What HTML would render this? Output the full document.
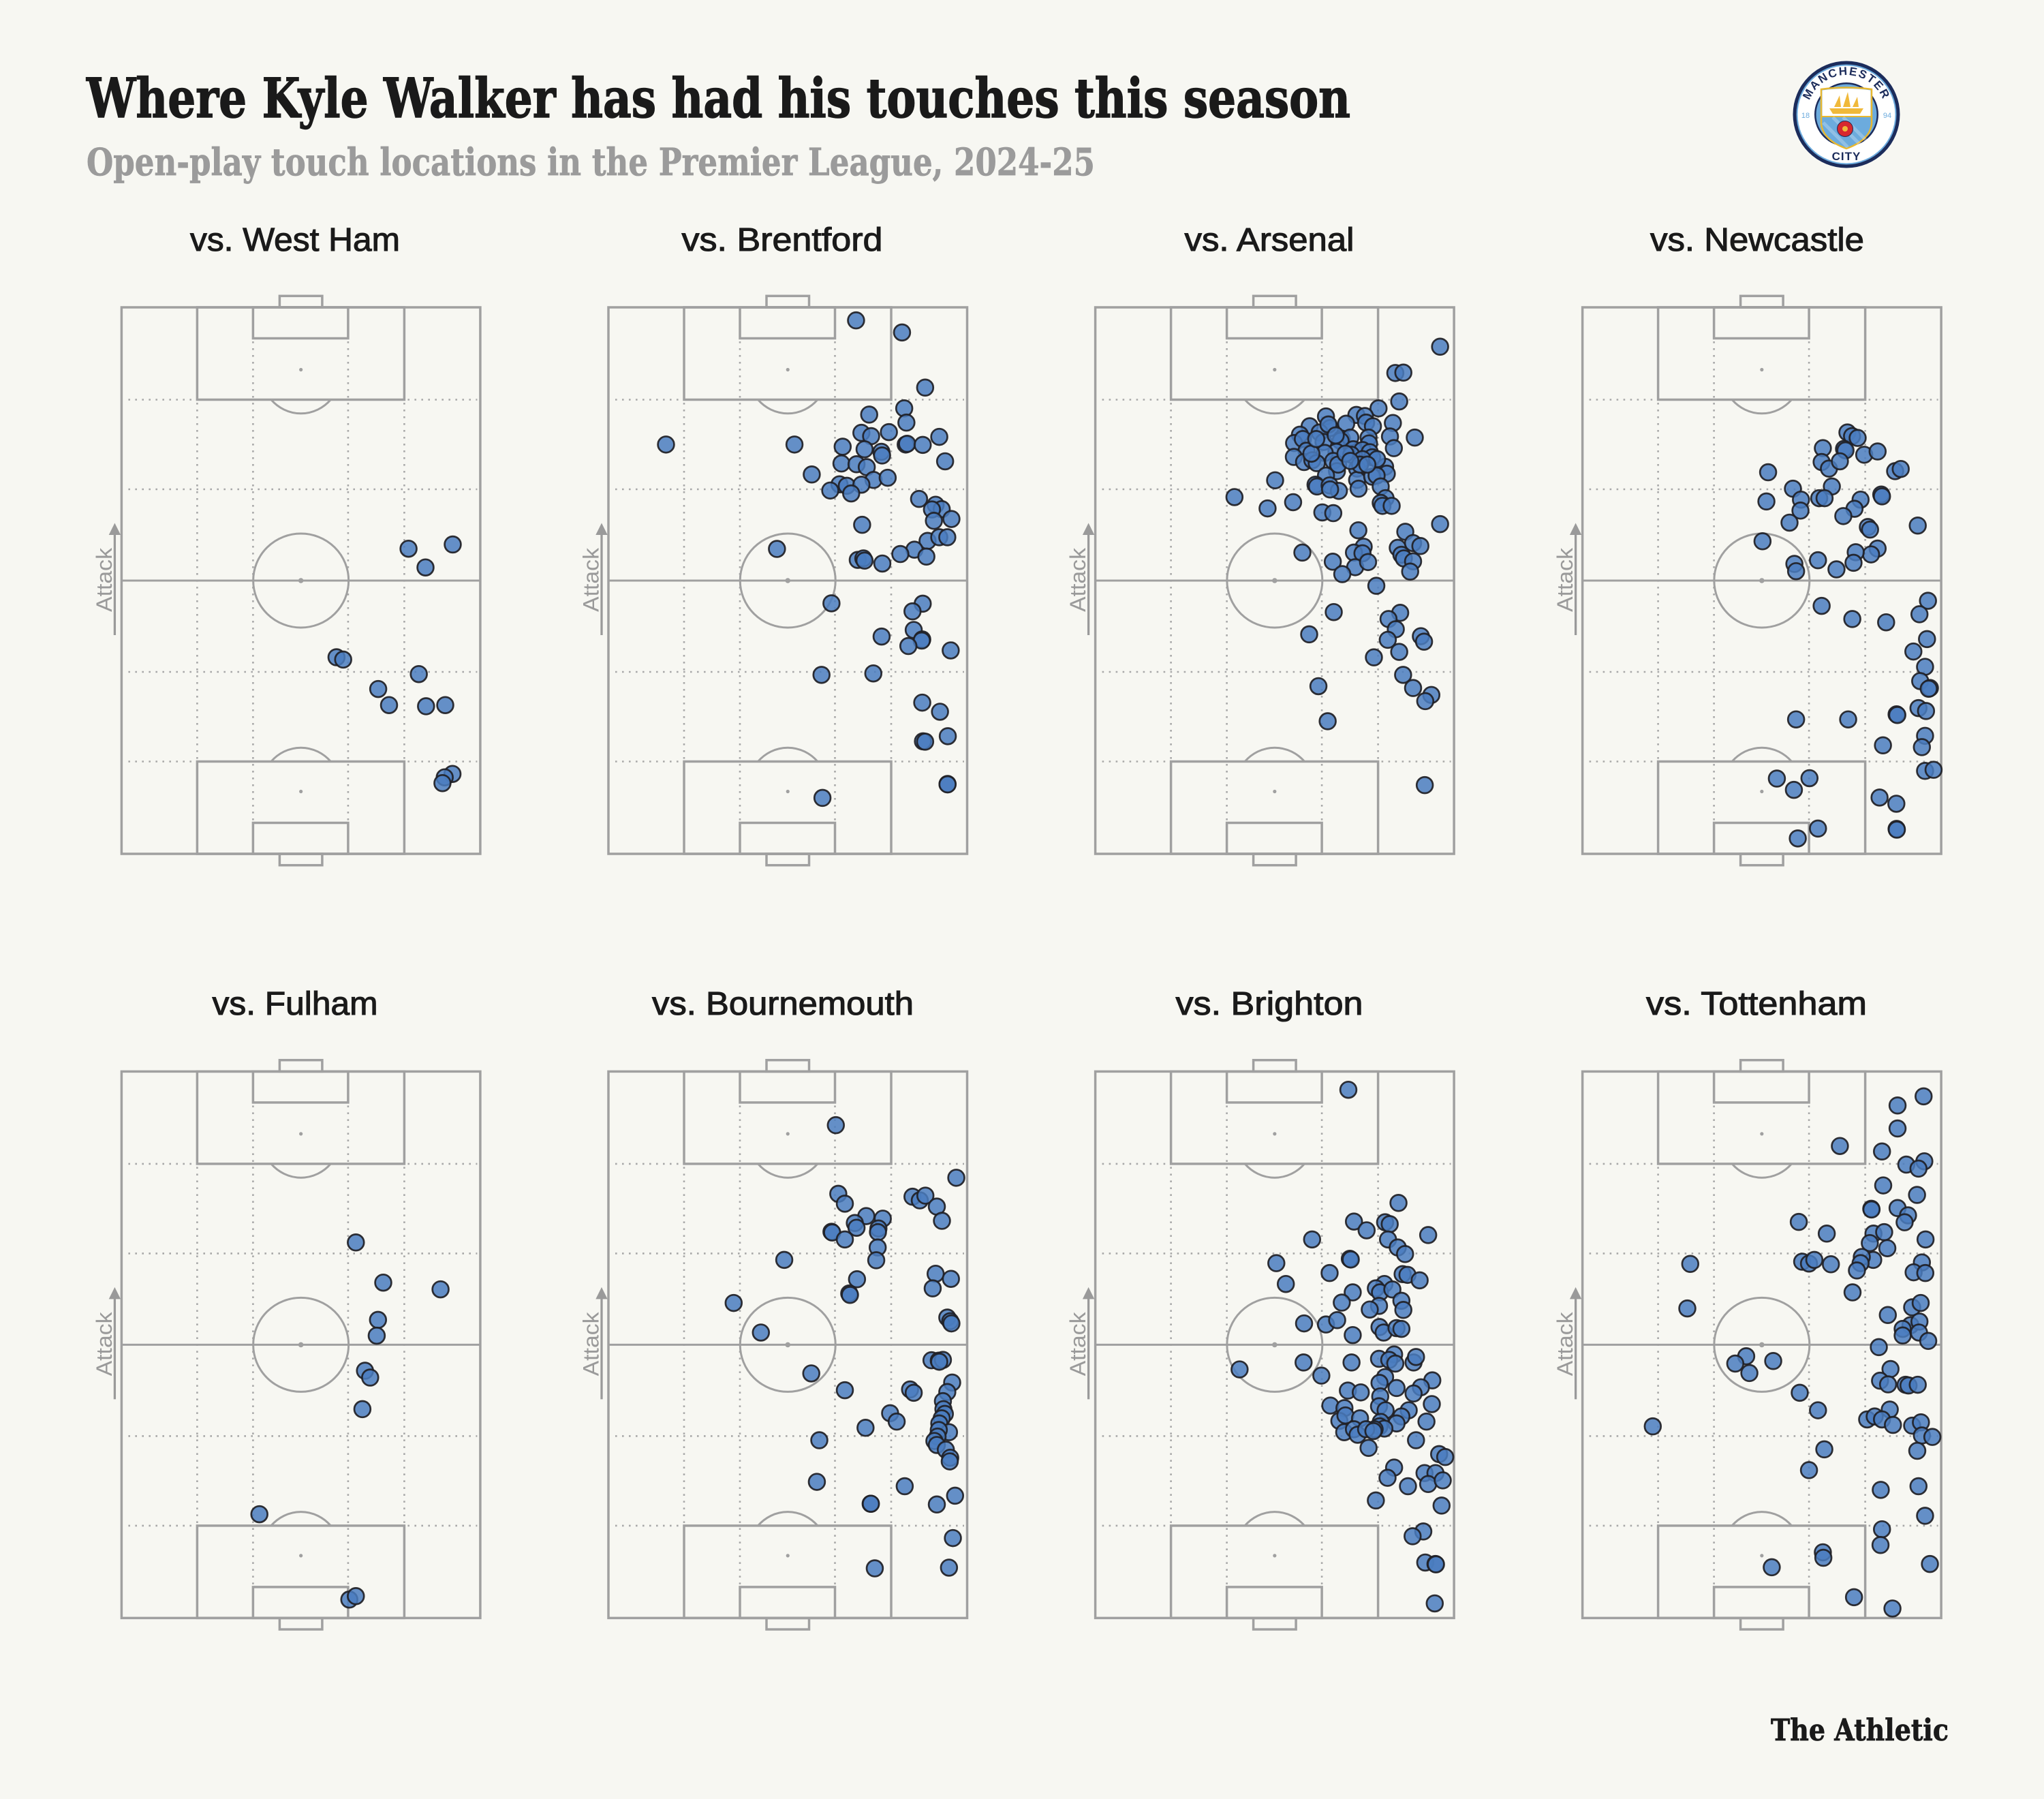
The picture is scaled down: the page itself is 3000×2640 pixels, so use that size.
<!DOCTYPE html>
<html><head><meta charset="utf-8">
<style>
html,body{margin:0;padding:0;background:#f7f7f2;}
svg{display:block}
.d{fill:#4a7cbf;fill-opacity:.85;stroke:#1f1f25;stroke-opacity:.92;stroke-width:2.7}
</style></head>
<body>
<svg width="3000" height="2640" viewBox="0 0 3000 2640" xmlns="http://www.w3.org/2000/svg">
<rect width="3000" height="2640" fill="#f7f7f2"/>
<defs>
<g id="pitch">
 <path d="M111,0V802M193,0V802M332.5,0V802M415,0V802M10,135.5H522M10,267H522M10,535H522M10,666.5H522" fill="none" stroke="#a8a8a8" stroke-width="2.6" stroke-dasharray="2.6 7.4"/>
 <g fill="none" stroke="#a0a0a0" stroke-width="3.5">
  <rect x="0" y="0" width="526.5" height="802"/>
  <rect x="111" y="0" width="304" height="135.5"/>
  <rect x="193" y="0" width="139.5" height="45.5"/>
  <rect x="232" y="-16.7" width="62.5" height="16.7"/>
  <rect x="111" y="666.5" width="304" height="135.5"/>
  <rect x="193" y="756.5" width="139.5" height="45.5"/>
  <rect x="232" y="802" width="62.5" height="16.7"/>
  <path d="M0,401H526.5" stroke-width="3"/>
  <ellipse cx="263.25" cy="401" rx="70" ry="69" stroke-width="3"/>
  <path d="M219.5,135.5A60,64.3 0 0 0 307,135.5" stroke-width="3"/>
  <path d="M219.5,666.5A60,64.3 0 0 1 307,666.5" stroke-width="3"/>
 </g>
 <circle cx="263.25" cy="401" r="3.8" fill="#a0a0a0"/>
 <circle cx="263.25" cy="91.5" r="2.6" fill="#a0a0a0"/>
 <circle cx="263.25" cy="710.5" r="2.6" fill="#a0a0a0"/>
 <path d="M-10,330V481" stroke="#9a9a9a" stroke-width="3.3" fill="none"/>
 <path d="M-10,316.5L-18.7,334L-1.3,334Z" fill="#9a9a9a"/>
 <text transform="translate(-14.5,400) rotate(-90)" text-anchor="middle" font-family="Liberation Sans, Arial, sans-serif" font-size="32" fill="#9a9a9a" textLength="94" lengthAdjust="spacingAndGlyphs">Attack</text>
</g>
<ellipse id="e" cx="0" cy="0" rx="33.3" ry="22.2" class="d" vector-effect="non-scaling-stroke"/>
</defs>

<!-- Titles -->
<text x="127" y="172" font-family="DejaVu Serif, Liberation Serif, serif" font-weight="bold" font-size="80" fill="#1a1a1a" stroke="#1a1a1a" stroke-width="1.5" textLength="1855" lengthAdjust="spacingAndGlyphs">Where Kyle Walker has had his touches this season</text>
<text x="127" y="257" font-family="DejaVu Serif, Liberation Serif, serif" font-weight="bold" font-size="55" fill="#9b9b9b" stroke="#9b9b9b" stroke-width="0.8" textLength="1480" lengthAdjust="spacingAndGlyphs">Open-play touch locations in the Premier League, 2024-25</text>

<!-- Logo -->
<g>
 <circle cx="2710" cy="168" r="78.5" fill="#1c2c5b"/>
 <circle cx="2710" cy="168" r="73.5" fill="#6cabdd"/>
 <circle cx="2710" cy="168" r="71.5" fill="#ffffff"/>
 <path id="arc" d="M2652,168 A58,58 0 0 1 2768,168" fill="none"/>
 <text font-family="Liberation Sans, Arial, sans-serif" font-weight="bold" font-size="17" fill="#1c2c5b" letter-spacing="2"><textPath href="#arc" startOffset="50%" text-anchor="middle">MANCHESTER</textPath></text>
 <text x="2650" y="173" text-anchor="middle" font-family="Liberation Sans, Arial, sans-serif" font-size="11" fill="#6cabdd">18</text>
 <text x="2770" y="173" text-anchor="middle" font-family="Liberation Sans, Arial, sans-serif" font-size="11" fill="#6cabdd">94</text>
 <circle cx="2710" cy="168" r="47" fill="#1c2c5b"/>
 <circle cx="2710" cy="168" r="44.5" fill="#6cabdd"/>
 <path d="M2673,131 Q2710,126 2747,131 L2747,182 Q2744,206 2710,218 Q2676,206 2673,182 Z" fill="#6cabdd" stroke="#e8b830" stroke-width="2.5"/>
 <path d="M2674.5,132.5 Q2710,127.5 2745.5,132.5 L2745.5,170 L2674.5,170 Z" fill="#ffffff"/>
 <path d="M2674,171H2746" stroke="#e8b830" stroke-width="2"/>
 <path d="M2690,172 L2730,212 M2705,172 L2745,212 M2676,180 L2712,216" stroke="#ffffff" stroke-opacity=".25" stroke-width="5"/>
 <path d="M2685,159 L2735,159 L2730,167 L2690,167Z" fill="#f0b93a"/>
 <path d="M2692,157 L2700,140 L2702,157Z M2705,157 L2712,135 L2716,157Z M2719,157 L2726,142 L2728,157Z" fill="#f0b93a"/>
 <circle cx="2708" cy="189" r="11.5" fill="#d7282f" stroke="#1c2c5b" stroke-width="1"/>
 <circle cx="2708" cy="189" r="4" fill="#f0b93a"/>
 <text x="2710" y="235" text-anchor="middle" font-family="Liberation Sans, Arial, sans-serif" font-weight="bold" font-size="17" fill="#1c2c5b" letter-spacing="1">CITY</text>
</g>

<!-- Panel titles -->
<g font-family="Liberation Sans, Arial, sans-serif" font-size="48" fill="#1a1a1a" stroke="#1a1a1a" stroke-width="1.1" text-anchor="middle">
 <text x="433" y="368" textLength="308" lengthAdjust="spacingAndGlyphs">vs. West Ham</text>
 <text x="1148" y="368" textLength="295" lengthAdjust="spacingAndGlyphs">vs. Brentford</text>
 <text x="1863" y="368" textLength="249" lengthAdjust="spacingAndGlyphs">vs. Arsenal</text>
 <text x="2579" y="368" textLength="314" lengthAdjust="spacingAndGlyphs">vs. Newcastle</text>
 <text x="433" y="1489" textLength="243" lengthAdjust="spacingAndGlyphs">vs. Fulham</text>
 <text x="1149" y="1489" textLength="384" lengthAdjust="spacingAndGlyphs">vs. Bournemouth</text>
 <text x="1863" y="1489" textLength="275" lengthAdjust="spacingAndGlyphs">vs. Brighton</text>
 <text x="2578" y="1489" textLength="324" lengthAdjust="spacingAndGlyphs">vs. Tottenham</text>
</g>

<!-- Pitches -->
<use href="#pitch" transform="translate(178.4,451)"/>
<use href="#pitch" transform="translate(893,451)"/>
<use href="#pitch" transform="translate(1607.6,451)"/>
<use href="#pitch" transform="translate(2322.6,451)"/>
<use href="#pitch" transform="translate(178.4,1572.4)"/>
<use href="#pitch" transform="translate(893,1572.4)"/>
<use href="#pitch" transform="translate(1607.6,1572.4)"/>
<use href="#pitch" transform="translate(2322.6,1572.4)"/>

<!-- West Ham -->
<g>
<circle class="d" r="11.9" cx="599.6" cy="805.2"/><circle class="d" r="11.9" cx="664.5" cy="799"/><circle class="d" r="11.9" cx="624.5" cy="832.7"/><circle class="d" r="11.9" cx="493.9" cy="964.5"/><circle class="d" r="11.9" cx="503.7" cy="967.9"/><circle class="d" r="11.9" cx="614.7" cy="989.2"/><circle class="d" r="11.9" cx="555.1" cy="1011.1"/><circle class="d" r="11.9" cx="571" cy="1034.7"/><circle class="d" r="11.9" cx="625.3" cy="1036.4"/><circle class="d" r="11.9" cx="653.5" cy="1034.7"/><circle class="d" r="11.9" cx="664.1" cy="1135.7"/><circle class="d" r="11.9" cx="652.7" cy="1140.7"/><circle class="d" r="11.9" cx="649.4" cy="1149.2"/>
</g>

<!-- Fulham -->
<g>
<circle class="d" r="11.9" cx="522.3" cy="1823.3"/><circle class="d" r="11.9" cx="562.5" cy="1882.2"/><circle class="d" r="11.9" cx="646.6" cy="1892.1"/><circle class="d" r="11.9" cx="554.8" cy="1936.9"/><circle class="d" r="11.9" cx="552.9" cy="1960.1"/><circle class="d" r="11.9" cx="535.7" cy="2011.5"/><circle class="d" r="11.9" cx="543.3" cy="2021.5"/><circle class="d" r="11.9" cx="531.9" cy="2067.9"/><circle class="d" r="11.9" cx="380.7" cy="2222.1"/><circle class="d" r="11.9" cx="512.7" cy="2347.3"/><circle class="d" r="11.9" cx="522.3" cy="2342.3"/>
</g>

<!-- Brentford -->
<g transform="translate(875,430) scale(0.357143,0.535714)">
<use href="#e" x="1068" y="75"/><use href="#e" x="1257" y="108"/><use href="#e" x="1352" y="259"/><use href="#e" x="1266" y="316"/><use href="#e" x="1275" y="355"/><use href="#e" x="1122" y="333"/><use href="#e" x="1090" y="383"/><use href="#e" x="1130" y="392"/><use href="#e" x="1203" y="381"/><use href="#e" x="1410" y="394"/><use href="#e" x="1272" y="415"/><use href="#e" x="1278" y="413"/><use href="#e" x="1342" y="416"/><use href="#e" x="1434" y="461"/><use href="#e" x="287" y="415"/><use href="#e" x="815" y="415"/><use href="#e" x="1013" y="421"/><use href="#e" x="1103" y="428"/><use href="#e" x="1172" y="435"/><use href="#e" x="1175" y="445"/><use href="#e" x="1008" y="467"/><use href="#e" x="1070" y="469"/><use href="#e" x="1112" y="477"/><use href="#e" x="886" y="497"/><use href="#e" x="1140" y="512"/><use href="#e" x="1198" y="506"/><use href="#e" x="1000" y="524"/><use href="#e" x="1030" y="528"/><use href="#e" x="1090" y="525"/><use href="#e" x="962" y="541"/><use href="#e" x="1048" y="549"/><use href="#e" x="1327" y="564"/><use href="#e" x="1395" y="580"/><use href="#e" x="1420" y="592"/><use href="#e" x="1380" y="593"/><use href="#e" x="1388" y="624"/><use href="#e" x="1460" y="619"/><use href="#e" x="1093" y="635"/><use href="#e" x="1362" y="679"/><use href="#e" x="1410" y="669"/><use href="#e" x="1443" y="669"/><use href="#e" x="1308" y="703"/><use href="#e" x="1250" y="715"/><use href="#e" x="1357" y="722"/><use href="#e" x="743" y="701"/><use href="#e" x="1075" y="731"/><use href="#e" x="1098" y="727"/><use href="#e" x="1103" y="733"/><use href="#e" x="1176" y="741"/><use href="#e" x="967" y="850"/><use href="#e" x="1342" y="851"/><use href="#e" x="1300" y="872"/><use href="#e" x="1305" y="923"/><use href="#e" x="1340" y="949"/><use href="#e" x="1338" y="952"/><use href="#e" x="1173" y="941"/><use href="#e" x="1283" y="967"/><use href="#e" x="1457" y="979"/><use href="#e" x="926" y="1046"/><use href="#e" x="1139" y="1042"/><use href="#e" x="1340" y="1122"/><use href="#e" x="1413" y="1147"/><use href="#e" x="1445" y="1214"/><use href="#e" x="1343" y="1228"/><use href="#e" x="1352" y="1229"/><use href="#e" x="930" y="1383"/><use href="#e" x="1444" y="1345"/><use href="#e" x="1444" y="1346"/>
</g>

<!-- Arsenal -->
<g transform="translate(1589,430) scale(0.357143,0.535714)">
<use href="#e" x="1469" y="147"/><use href="#e" x="1285" y="219"/><use href="#e" x="1318" y="218"/><use href="#e" x="1301" y="297"/><use href="#e" x="1216" y="316"/><use href="#e" x="1000" y="338"/><use href="#e" x="1125" y="334"/><use href="#e" x="1160" y="337"/><use href="#e" x="1083" y="358"/><use href="#e" x="1165" y="355"/><use href="#e" x="1193" y="365"/><use href="#e" x="1275" y="356"/><use href="#e" x="933" y="365"/><use href="#e" x="1017" y="370"/><use href="#e" x="974" y="382"/><use href="#e" x="893" y="388"/><use href="#e" x="1263" y="393"/><use href="#e" x="1365" y="396"/><use href="#e" x="1065" y="399"/><use href="#e" x="1100" y="396"/><use href="#e" x="1175" y="396"/><use href="#e" x="869" y="411"/><use href="#e" x="905" y="400"/><use href="#e" x="990" y="408"/><use href="#e" x="1060" y="405"/><use href="#e" x="1177" y="412"/><use href="#e" x="1279" y="425"/><use href="#e" x="1112" y="428"/><use href="#e" x="1150" y="430"/><use href="#e" x="1043" y="435"/><use href="#e" x="995" y="438"/><use href="#e" x="920" y="432"/><use href="#e" x="868" y="449"/><use href="#e" x="1104" y="443"/><use href="#e" x="1180" y="436"/><use href="#e" x="1190" y="450"/><use href="#e" x="910" y="463"/><use href="#e" x="944" y="458"/><use href="#e" x="962" y="466"/><use href="#e" x="1030" y="460"/><use href="#e" x="1150" y="455"/><use href="#e" x="1243" y="476"/><use href="#e" x="1128" y="481"/><use href="#e" x="1045" y="488"/><use href="#e" x="1250" y="495"/><use href="#e" x="1000" y="500"/><use href="#e" x="1128" y="512"/><use href="#e" x="1190" y="503"/><use href="#e" x="1208" y="500"/><use href="#e" x="791" y="513"/><use href="#e" x="957" y="525"/><use href="#e" x="963" y="530"/><use href="#e" x="1015" y="527"/><use href="#e" x="1053" y="542"/><use href="#e" x="1134" y="536"/><use href="#e" x="1225" y="530"/><use href="#e" x="1017" y="538"/><use href="#e" x="624" y="559"/><use href="#e" x="865" y="573"/><use href="#e" x="1245" y="562"/><use href="#e" x="1225" y="575"/><use href="#e" x="1232" y="583"/><use href="#e" x="1270" y="583"/><use href="#e" x="760" y="590"/><use href="#e" x="985" y="601"/><use href="#e" x="1030" y="603"/><use href="#e" x="1469" y="633"/><use href="#e" x="1133" y="650"/><use href="#e" x="1326" y="654"/><use href="#e" x="1155" y="695"/><use href="#e" x="1115" y="711"/><use href="#e" x="1150" y="713"/><use href="#e" x="1295" y="698"/><use href="#e" x="1358" y="685"/><use href="#e" x="1388" y="693"/><use href="#e" x="1310" y="717"/><use href="#e" x="1320" y="727"/><use href="#e" x="1358" y="735"/><use href="#e" x="903" y="711"/><use href="#e" x="1028" y="736"/><use href="#e" x="1120" y="751"/><use href="#e" x="1173" y="737"/><use href="#e" x="1067" y="770"/><use href="#e" x="1346" y="763"/><use href="#e" x="1207" y="802"/><use href="#e" x="1032" y="874"/><use href="#e" x="1305" y="876"/><use href="#e" x="1257" y="893"/><use href="#e" x="1287" y="921"/><use href="#e" x="1254" y="950"/><use href="#e" x="1390" y="940"/><use href="#e" x="1403" y="955"/><use href="#e" x="1301" y="983"/><use href="#e" x="1197" y="998"/><use href="#e" x="931" y="935"/><use href="#e" x="1317" y="1046"/><use href="#e" x="1358" y="1082"/><use href="#e" x="1433" y="1101"/><use href="#e" x="1408" y="1118"/><use href="#e" x="969" y="1077"/><use href="#e" x="1007" y="1173"/><use href="#e" x="1406" y="1348"/><use href="#e" x="1050" y="470"/><use href="#e" x="1080" y="440"/><use href="#e" x="1140" y="470"/><use href="#e" x="940" y="440"/><use href="#e" x="1010" y="360"/><use href="#e" x="1040" y="390"/><use href="#e" x="960" y="400"/><use href="#e" x="1210" y="455"/><use href="#e" x="1100" y="460"/><use href="#e" x="1170" y="470"/>
</g>

<!-- Newcastle -->
<g transform="translate(2304,430) scale(0.357143,0.535714)">
<use href="#e" x="1141" y="382"/><use href="#e" x="1160" y="392"/><use href="#e" x="1183" y="397"/><use href="#e" x="1040" y="425"/><use href="#e" x="1127" y="427"/><use href="#e" x="1133" y="431"/><use href="#e" x="1210" y="443"/><use href="#e" x="1265" y="434"/><use href="#e" x="1035" y="463"/><use href="#e" x="1065" y="481"/><use href="#e" x="1110" y="461"/><use href="#e" x="1337" y="488"/><use href="#e" x="1360" y="482"/><use href="#e" x="815" y="491"/><use href="#e" x="917" y="536"/><use href="#e" x="1077" y="530"/><use href="#e" x="808" y="571"/><use href="#e" x="950" y="566"/><use href="#e" x="948" y="596"/><use href="#e" x="1025" y="562"/><use href="#e" x="1047" y="562"/><use href="#e" x="1280" y="552"/><use href="#e" x="1283" y="557"/><use href="#e" x="1195" y="566"/><use href="#e" x="1170" y="591"/><use href="#e" x="1124" y="611"/><use href="#e" x="903" y="629"/><use href="#e" x="1225" y="641"/><use href="#e" x="1234" y="648"/><use href="#e" x="1430" y="637"/><use href="#e" x="792" y="680"/><use href="#e" x="1265" y="700"/><use href="#e" x="1238" y="716"/><use href="#e" x="1175" y="710"/><use href="#e" x="1166" y="739"/><use href="#e" x="923" y="742"/><use href="#e" x="930" y="762"/><use href="#e" x="1020" y="732"/><use href="#e" x="1096" y="757"/><use href="#e" x="1035" y="857"/><use href="#e" x="1161" y="893"/><use href="#e" x="1300" y="902"/><use href="#e" x="1472" y="843"/><use href="#e" x="1437" y="880"/><use href="#e" x="1468" y="948"/><use href="#e" x="1412" y="982"/><use href="#e" x="1460" y="1024"/><use href="#e" x="1440" y="1063"/><use href="#e" x="1480" y="1082"/><use href="#e" x="1475" y="1084"/><use href="#e" x="1433" y="1137"/><use href="#e" x="1464" y="1145"/><use href="#e" x="1343" y="1154"/><use href="#e" x="1346" y="1156"/><use href="#e" x="930" y="1168"/><use href="#e" x="1144" y="1168"/><use href="#e" x="1460" y="1213"/><use href="#e" x="1447" y="1244"/><use href="#e" x="1287" y="1239"/><use href="#e" x="1460" y="1309"/><use href="#e" x="1495" y="1306"/><use href="#e" x="851" y="1330"/><use href="#e" x="985" y="1329"/><use href="#e" x="921" y="1361"/><use href="#e" x="1273" y="1382"/><use href="#e" x="1342" y="1399"/><use href="#e" x="1343" y="1468"/><use href="#e" x="1344" y="1470"/><use href="#e" x="1020" y="1467"/><use href="#e" x="937" y="1494"/>
</g>

<!-- Bournemouth -->
<g transform="translate(875,1551) scale(0.357143,0.535714)">
<use href="#e" x="985" y="187"/><use href="#e" x="1480" y="331"/><use href="#e" x="995" y="375"/><use href="#e" x="1022" y="402"/><use href="#e" x="1300" y="383"/><use href="#e" x="1330" y="393"/><use href="#e" x="1353" y="380"/><use href="#e" x="1400" y="410"/><use href="#e" x="1421" y="449"/><use href="#e" x="1110" y="436"/><use href="#e" x="1063" y="455"/><use href="#e" x="1070" y="468"/><use href="#e" x="1178" y="443"/><use href="#e" x="1160" y="470"/><use href="#e" x="1158" y="480"/><use href="#e" x="967" y="479"/><use href="#e" x="970" y="481"/><use href="#e" x="1022" y="500"/><use href="#e" x="1157" y="522"/><use href="#e" x="1151" y="557"/><use href="#e" x="773" y="556"/><use href="#e" x="1072" y="609"/><use href="#e" x="1040" y="648"/><use href="#e" x="1043" y="652"/><use href="#e" x="565" y="674"/><use href="#e" x="1395" y="594"/><use href="#e" x="1458" y="608"/><use href="#e" x="1383" y="634"/><use href="#e" x="1443" y="714"/><use href="#e" x="1455" y="724"/><use href="#e" x="1460" y="730"/><use href="#e" x="677" y="755"/><use href="#e" x="884" y="867"/><use href="#e" x="1022" y="913"/><use href="#e" x="1378" y="831"/><use href="#e" x="1408" y="832"/><use href="#e" x="1425" y="830"/><use href="#e" x="1410" y="835"/><use href="#e" x="1463" y="892"/><use href="#e" x="1290" y="911"/><use href="#e" x="1305" y="920"/><use href="#e" x="1443" y="918"/><use href="#e" x="1425" y="943"/><use href="#e" x="1427" y="965"/><use href="#e" x="1433" y="978"/><use href="#e" x="1420" y="990"/><use href="#e" x="1410" y="1004"/><use href="#e" x="1450" y="1028"/><use href="#e" x="1408" y="1022"/><use href="#e" x="1403" y="1040"/><use href="#e" x="1390" y="1052"/><use href="#e" x="1400" y="1063"/><use href="#e" x="1437" y="1076"/><use href="#e" x="1455" y="1098"/><use href="#e" x="1453" y="1108"/><use href="#e" x="1208" y="976"/><use href="#e" x="1235" y="999"/><use href="#e" x="1107" y="1016"/><use href="#e" x="917" y="1050"/><use href="#e" x="907" y="1164"/><use href="#e" x="1128" y="1224"/><use href="#e" x="1129" y="1224"/><use href="#e" x="1268" y="1176"/><use href="#e" x="1400" y="1226"/><use href="#e" x="1475" y="1202"/><use href="#e" x="1466" y="1318"/><use href="#e" x="1145" y="1401"/><use href="#e" x="1450" y="1399"/>
</g>

<!-- Brighton -->
<g transform="translate(1589,1551) scale(0.357143,0.535714)">
<use href="#e" x="1092" y="90"/><use href="#e" x="1298" y="400"/><use href="#e" x="1115" y="451"/><use href="#e" x="1167" y="475"/><use href="#e" x="1243" y="453"/><use href="#e" x="1262" y="458"/><use href="#e" x="1420" y="488"/><use href="#e" x="943" y="500"/><use href="#e" x="1255" y="500"/><use href="#e" x="1295" y="522"/><use href="#e" x="1325" y="540"/><use href="#e" x="1098" y="553"/><use href="#e" x="1102" y="555"/><use href="#e" x="796" y="565"/><use href="#e" x="1015" y="592"/><use href="#e" x="1315" y="595"/><use href="#e" x="1335" y="597"/><use href="#e" x="1385" y="612"/><use href="#e" x="835" y="622"/><use href="#e" x="1240" y="622"/><use href="#e" x="1205" y="634"/><use href="#e" x="1222" y="645"/><use href="#e" x="1273" y="637"/><use href="#e" x="1110" y="645"/><use href="#e" x="1310" y="668"/><use href="#e" x="1218" y="682"/><use href="#e" x="1180" y="692"/><use href="#e" x="1318" y="693"/><use href="#e" x="1065" y="673"/><use href="#e" x="910" y="730"/><use href="#e" x="1000" y="733"/><use href="#e" x="1046" y="721"/><use href="#e" x="1220" y="740"/><use href="#e" x="1237" y="755"/><use href="#e" x="1290" y="743"/><use href="#e" x="1310" y="745"/><use href="#e" x="1110" y="762"/><use href="#e" x="645" y="856"/><use href="#e" x="908" y="837"/><use href="#e" x="981" y="873"/><use href="#e" x="1105" y="837"/><use href="#e" x="1218" y="827"/><use href="#e" x="1280" y="815"/><use href="#e" x="1260" y="830"/><use href="#e" x="1285" y="840"/><use href="#e" x="1360" y="837"/><use href="#e" x="1370" y="822"/><use href="#e" x="1243" y="877"/><use href="#e" x="1220" y="893"/><use href="#e" x="1437" y="886"/><use href="#e" x="1390" y="905"/><use href="#e" x="1360" y="922"/><use href="#e" x="1290" y="907"/><use href="#e" x="1090" y="914"/><use href="#e" x="1143" y="919"/><use href="#e" x="1223" y="930"/><use href="#e" x="1018" y="955"/><use href="#e" x="1076" y="962"/><use href="#e" x="1218" y="957"/><use href="#e" x="1245" y="968"/><use href="#e" x="1340" y="968"/><use href="#e" x="1310" y="985"/><use href="#e" x="1435" y="951"/><use href="#e" x="1413" y="999"/><use href="#e" x="1290" y="1004"/><use href="#e" x="1055" y="997"/><use href="#e" x="1080" y="982"/><use href="#e" x="1140" y="990"/><use href="#e" x="1225" y="1000"/><use href="#e" x="1220" y="1012"/><use href="#e" x="1240" y="1018"/><use href="#e" x="1200" y="1020"/><use href="#e" x="1075" y="1028"/><use href="#e" x="1115" y="1020"/><use href="#e" x="1130" y="1035"/><use href="#e" x="1165" y="1020"/><use href="#e" x="1195" y="1025"/><use href="#e" x="1370" y="1050"/><use href="#e" x="1175" y="1071"/><use href="#e" x="1465" y="1088"/><use href="#e" x="1490" y="1096"/><use href="#e" x="1280" y="1125"/><use href="#e" x="1253" y="1153"/><use href="#e" x="1337" y="1176"/><use href="#e" x="1405" y="1140"/><use href="#e" x="1450" y="1140"/><use href="#e" x="1420" y="1170"/><use href="#e" x="1480" y="1160"/><use href="#e" x="1205" y="1215"/><use href="#e" x="1475" y="1229"/><use href="#e" x="1400" y="1300"/><use href="#e" x="1356" y="1313"/><use href="#e" x="1408" y="1385"/><use href="#e" x="1450" y="1389"/><use href="#e" x="1452" y="1390"/><use href="#e" x="1447" y="1497"/>
</g>

<!-- Tottenham -->
<g transform="translate(2304,1551) scale(0.357143,0.535714)">
<use href="#e" x="1454" y="108"/><use href="#e" x="1347" y="133"/><use href="#e" x="1347" y="196"/><use href="#e" x="1110" y="244"/><use href="#e" x="1283" y="259"/><use href="#e" x="1383" y="295"/><use href="#e" x="1457" y="286"/><use href="#e" x="1433" y="306"/><use href="#e" x="1288" y="352"/><use href="#e" x="1427" y="378"/><use href="#e" x="1239" y="416"/><use href="#e" x="1240" y="418"/><use href="#e" x="1347" y="414"/><use href="#e" x="1390" y="434"/><use href="#e" x="1376" y="453"/><use href="#e" x="941" y="452"/><use href="#e" x="1056" y="484"/><use href="#e" x="1248" y="484"/><use href="#e" x="1292" y="480"/><use href="#e" x="1462" y="500"/><use href="#e" x="1233" y="510"/><use href="#e" x="1305" y="524"/><use href="#e" x="1247" y="556"/><use href="#e" x="1200" y="548"/><use href="#e" x="1195" y="565"/><use href="#e" x="1180" y="585"/><use href="#e" x="955" y="561"/><use href="#e" x="983" y="566"/><use href="#e" x="1005" y="556"/><use href="#e" x="1073" y="568"/><use href="#e" x="495" y="567"/><use href="#e" x="1447" y="563"/><use href="#e" x="1413" y="590"/><use href="#e" x="1461" y="592"/><use href="#e" x="1162" y="645"/><use href="#e" x="483" y="689"/><use href="#e" x="1307" y="707"/><use href="#e" x="1407" y="686"/><use href="#e" x="1442" y="674"/><use href="#e" x="1400" y="735"/><use href="#e" x="1437" y="725"/><use href="#e" x="1368" y="745"/><use href="#e" x="1368" y="763"/><use href="#e" x="1435" y="755"/><use href="#e" x="1473" y="778"/><use href="#e" x="1270" y="795"/><use href="#e" x="725" y="820"/><use href="#e" x="680" y="840"/><use href="#e" x="738" y="866"/><use href="#e" x="836" y="833"/><use href="#e" x="1318" y="855"/><use href="#e" x="1275" y="887"/><use href="#e" x="1308" y="897"/><use href="#e" x="1380" y="898"/><use href="#e" x="1392" y="900"/><use href="#e" x="1430" y="898"/><use href="#e" x="945" y="920"/><use href="#e" x="1020" y="968"/><use href="#e" x="1315" y="966"/><use href="#e" x="1222" y="993"/><use href="#e" x="1253" y="985"/><use href="#e" x="1283" y="993"/><use href="#e" x="1328" y="1008"/><use href="#e" x="1407" y="1010"/><use href="#e" x="1443" y="1001"/><use href="#e" x="1447" y="1037"/><use href="#e" x="1490" y="1041"/><use href="#e" x="1428" y="1079"/><use href="#e" x="341" y="1012"/><use href="#e" x="1046" y="1075"/><use href="#e" x="983" y="1132"/><use href="#e" x="1278" y="1186"/><use href="#e" x="1433" y="1176"/><use href="#e" x="1460" y="1257"/><use href="#e" x="1283" y="1294"/><use href="#e" x="1277" y="1337"/><use href="#e" x="1040" y="1357"/><use href="#e" x="1042" y="1372"/><use href="#e" x="830" y="1398"/><use href="#e" x="1480" y="1389"/><use href="#e" x="1168" y="1480"/><use href="#e" x="1326" y="1511"/>
</g>

<!-- Footer logo -->
<text x="2599" y="2554" font-family="DejaVu Serif, Liberation Serif, serif" font-weight="bold" font-size="44" fill="#1a1a1a" stroke="#1a1a1a" stroke-width="0.8" textLength="261" lengthAdjust="spacingAndGlyphs">The Athletic</text>
</svg>
</body></html>
